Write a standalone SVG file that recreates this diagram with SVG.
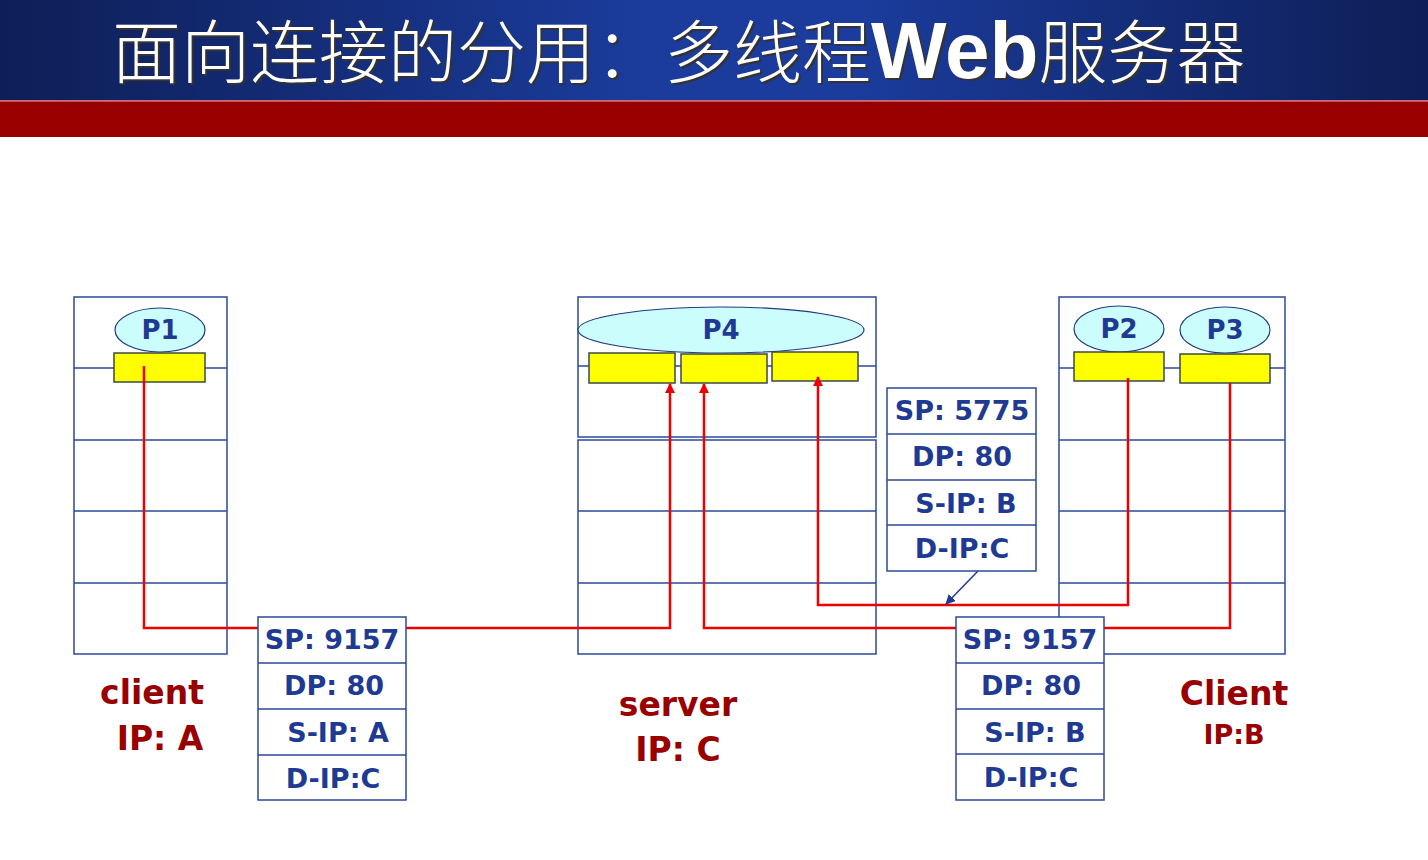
<svg xmlns="http://www.w3.org/2000/svg" width="1428" height="860" viewBox="0 0 1428 860">
<defs>
<linearGradient id="hdr" x1="0" y1="0" x2="1" y2="0">
<stop offset="0" stop-color="#0e1e56"/>
<stop offset="0.45" stop-color="#1b3c9c"/>
<stop offset="0.6" stop-color="#1b3c9c"/>
<stop offset="1" stop-color="#0e1e56"/>
</linearGradient>
<marker id="ar" viewBox="0 0 10 10" refX="9" refY="5" markerWidth="10" markerHeight="10" markerUnits="userSpaceOnUse" orient="auto">
<path d="M0,0 L10,5 L0,10 z" fill="#ee0000"/>
</marker>
<marker id="an" viewBox="0 0 10 10" refX="9" refY="5" markerWidth="10" markerHeight="10" markerUnits="userSpaceOnUse" orient="auto">
<path d="M0,0 L10,5 L0,10 z" fill="#1f3a93"/>
</marker>
<style>
.box{fill:#fff;stroke:#2b4a9a;stroke-width:1.5}
.ln{stroke:#2b4a9a;stroke-width:1.5;fill:none}
.proc{fill:#ccfdfd;stroke:#1f3a80;stroke-width:1.2}
.sock{fill:#ffff00;stroke:#3a4a4a;stroke-width:1.5}
.pt{font-family:"DejaVu Sans",sans-serif;font-weight:bold;font-size:26px;fill:#1f3a93;text-anchor:middle}
.pk{font-family:"DejaVu Sans",sans-serif;font-weight:bold;font-size:27px;fill:#1f3a93;text-anchor:middle}
.lb{font-family:"DejaVu Sans",sans-serif;font-weight:bold;font-size:33px;fill:#990000;text-anchor:middle}
.red{stroke:#ee0000;stroke-width:2.5;fill:none}
.ttl{font-family:"Noto Sans CJK SC","Noto Sans CJK JP",sans-serif;font-size:69px;font-weight:300}
.web{font-family:"Liberation Sans",Arial,sans-serif;font-weight:bold;font-size:80px}
</style>
</defs>
<rect x="0" y="0" width="1428" height="860" fill="#fff"/>
<rect x="0" y="0" width="1428" height="100" fill="url(#hdr)"/>
<rect x="0" y="100" width="1428" height="1.5" fill="#c86a80"/>
<rect x="0" y="101.5" width="1428" height="35.5" fill="#990000"/>
<g id="title">
<text x="114" y="80" fill="#333" class="ttl">面向连接的分用：多线程<tspan class="web">Web</tspan>服务器</text>
<text x="112" y="78" fill="#fff" class="ttl">面向连接的分用：多线程<tspan class="web">Web</tspan>服务器</text>
</g>
<g id="host-client-A">
<rect class="box" x="74" y="297" width="153" height="357"/>
<path class="ln" d="M74 368H227M74 440H227M74 511H227M74 583H227"/>
</g>
<g id="host-server-C">
<rect class="box" x="578" y="297" width="298" height="140"/>
<rect class="box" x="578" y="440" width="298" height="214"/>
<path class="ln" d="M578 366H876M578 511H876M578 583H876"/>
</g>
<g id="host-client-B">
<rect class="box" x="1059" y="297" width="226" height="357"/>
<path class="ln" d="M1059 368H1285M1059 440H1285M1059 511H1285M1059 583H1285"/>
</g>
<g id="P1">
<ellipse class="proc" cx="160" cy="330" rx="45" ry="22"/>
<text class="pt" x="160" y="339">P1</text>
<rect class="sock" x="114" y="353" width="91" height="29"/>
</g>
<g id="P4">
<ellipse class="proc" cx="721" cy="330" rx="143" ry="23"/>
<text class="pt" x="721" y="339">P4</text>
<rect class="sock" x="589" y="353" width="86" height="30"/>
<rect class="sock" x="681" y="354" width="86" height="29"/>
<rect class="sock" x="772" y="352" width="86" height="29"/>
</g>
<g id="P2">
<ellipse class="proc" cx="1119" cy="329" rx="45" ry="23"/>
<text class="pt" x="1119" y="338">P2</text>
<rect class="sock" x="1074" y="352" width="90" height="29"/>
</g>
<g id="P3">
<ellipse class="proc" cx="1225" cy="330" rx="45" ry="23"/>
<text class="pt" x="1225" y="339">P3</text>
<rect class="sock" x="1180" y="354" width="90" height="29"/>
</g>
<g id="connectors">
<path class="red" d="M144 366V628H670V384" marker-end="url(#ar)"/>
<path class="red" d="M1230 383V628H704V384" marker-end="url(#ar)"/>
<path class="red" d="M1128 378V605H818V377" marker-end="url(#ar)"/>
<path d="M978 571L946 604" stroke="#1f3a93" stroke-width="1.5" fill="none" marker-end="url(#an)"/>
</g>
<g id="pkt-A">
<rect class="box" x="258" y="617" width="148" height="183"/>
<path class="ln" d="M258 663H406M258 709H406M258 755H406"/>
<text class="pk" x="332" y="649">SP: 9157</text>
<text class="pk" x="334" y="695">DP: 80</text>
<text class="pk" x="338" y="742">S-IP: A</text>
<text class="pk" x="333" y="788">D-IP:C</text>
</g>
<g id="pkt-B2">
<rect class="box" x="887" y="388" width="149" height="183"/>
<path class="ln" d="M887 434H1036M887 480H1036M887 525H1036"/>
<text class="pk" x="962" y="420">SP: 5775</text>
<text class="pk" x="962" y="466">DP: 80</text>
<text class="pk" x="966" y="513">S-IP: B</text>
<text class="pk" x="962" y="558">D-IP:C</text>
</g>
<g id="pkt-B3">
<rect class="box" x="956" y="617" width="148" height="183"/>
<path class="ln" d="M956 663H1104M956 709H1104M956 754H1104"/>
<text class="pk" x="1030" y="649">SP: 9157</text>
<text class="pk" x="1031" y="695">DP: 80</text>
<text class="pk" x="1035" y="742">S-IP: B</text>
<text class="pk" x="1031" y="787">D-IP:C</text>
</g>
<g id="labels">
<text class="lb" x="152" y="704">client</text>
<text class="lb" x="160" y="750">IP: A</text>
<text class="lb" x="678" y="716">server</text>
<text class="lb" x="678" y="761">IP: C</text>
<text class="lb" x="1234" y="705">Client</text>
<text class="lb" x="1234" y="744" style="font-size:27px">IP:B</text>
</g>
</svg>
